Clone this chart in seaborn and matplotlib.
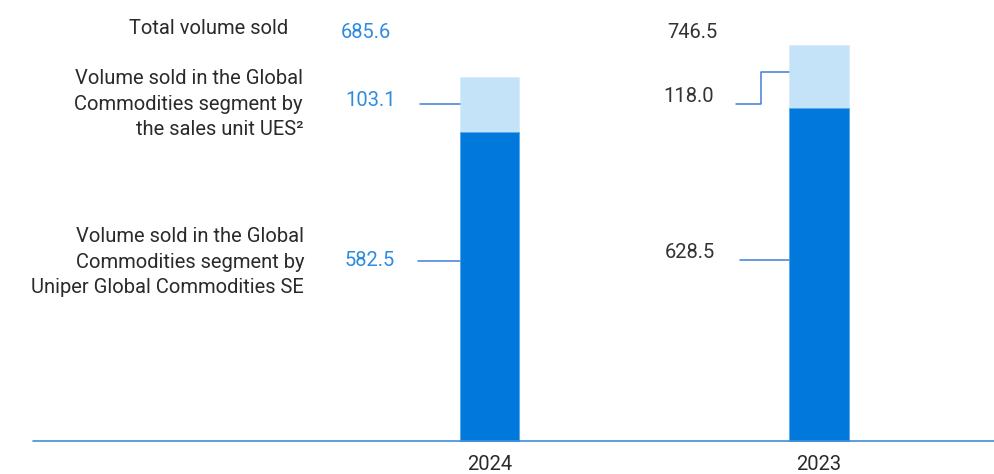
import matplotlib
matplotlib.use("Agg")
import matplotlib.pyplot as plt
import seaborn as sns
import pandas as pd

years = ["2024", "2023"]
ugc_values = [582.5, 628.5]      # Uniper Global Commodities SE
ues_values = [103.1, 118.0]      # sales unit UES
total_values = [685.6, 746.5]
value_colors = ["#2f8be0", "#333333"]

df = pd.DataFrame({"year": years, "ugc": ugc_values, "ues": ues_values, "total": total_values})

sns.set_theme(style="white")
plt.rcParams["font.family"] = ["Roboto", "DejaVu Sans"]

DARK = "#0078dc"
LIGHT = "#c4e3f9"
LINE = "#3d7fd6"

fig = plt.figure(figsize=(9.94, 4.74), dpi=100)
ax = fig.add_axes([0, 0, 1, 1])

sns.barplot(data=df, x="year", y="total", color=LIGHT, width=0.18, ax=ax,
            edgecolor="#d6ecfb", linewidth=0.6, saturation=1)
sns.barplot(data=df, x="year", y="ugc", color=DARK, width=0.18, ax=ax,
            edgecolor="#5aa8ec", linewidth=0.6, saturation=1)

px = 0.5305  # pixels per unit
ax.set_xlim(-489.5 / 329.5, (994 - 489.5) / 329.5)
ax.set_ylim(-33 / px, (474 - 33) / px)
ax.axis("off")

# baseline
ax.plot([33 / 994, 1], [33 / 474, 33 / 474], transform=fig.transFigure,
        color="#3f8fd8", lw=1.2, clip_on=False)

def fx(x):
    return x / 994
def fy(y):
    return 1 - y / 474

FS = 14.5
TXT = "#2a2a2a"
tk = dict(transform=fig.transFigure, fontsize=FS, color=TXT)

fig.text(fx(288), fy(29), "Total volume sold", ha="right", va="center", **tk)
fig.text(fx(303), fy(104), "Volume sold in the Global\nCommodities segment by\nthe sales unit UES²",
         ha="right", va="center", linespacing=1.42, **tk)
fig.text(fx(304), fy(262), "Volume sold in the Global\nCommodities segment by\nUniper Global Commodities SE",
         ha="right", va="center", linespacing=1.42, **tk)

# values
vk = dict(transform=fig.transFigure, fontsize=FS, ha="center", va="center")
fig.text(fx(366), fy(33), f"{total_values[0]:.1f}", color=value_colors[0], **vk)
fig.text(fx(371), fy(100), f"{ues_values[0]:.1f}", color=value_colors[0], **vk)
fig.text(fx(370), fy(261), f"{ugc_values[0]:.1f}", color=value_colors[0], **vk)
fig.text(fx(692), fy(32), f"{total_values[1]:.1f}", color=value_colors[1], **vk)
fig.text(fx(689), fy(97), f"{ues_values[1]:.1f}", color=value_colors[1], **vk)
fig.text(fx(690), fy(252), f"{ugc_values[1]:.1f}", color=value_colors[1], **vk)

# connectors
lk = dict(transform=fig.transFigure, color=LINE, lw=1.1)
ax.plot([fx(420), fx(460)], [fy(104), fy(104)], **lk)
ax.plot([fx(418), fx(460)], [fy(261), fy(261)], **lk)
ax.plot([fx(736), fx(761), fx(761), fx(789)], [fy(104), fy(104), fy(72), fy(72)], **lk)
ax.plot([fx(740), fx(789)], [fy(260), fy(260)], **lk)

# year labels (pixel y = 464)
for i, yr in enumerate(years):
    ax.text(i, -(464 - 441) / px, yr, ha="center", va="center", fontsize=FS,
            color=TXT)

fig.savefig("out.png", dpi=100)
